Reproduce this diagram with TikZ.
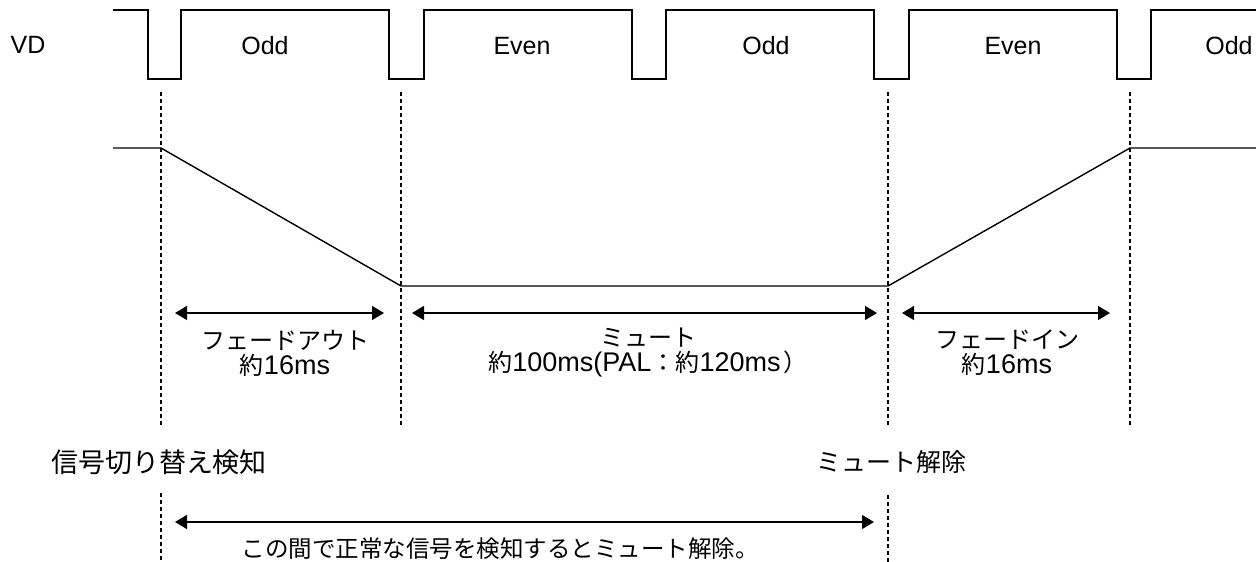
\documentclass[tikz,border=0pt]{standalone}
\usepackage{fontspec}
\setmainfont{Liberation Sans}
\newfontfamily\jp{Noto Sans CJK JP}
\usetikzlibrary{arrows.meta}
\begin{document}
\begin{tikzpicture}[x=1pt,y=-1pt,
  wave/.style={line width=1.4pt, line join=miter},
  guide/.style={line width=1.2pt, dash pattern=on 4pt off 3pt},
  span/.style={line width=1.4pt, {Triangle[length=12pt,width=14pt]}-{Triangle[length=12pt,width=14pt]}},
  lbl/.style={inner sep=0pt, font=\fontsize{25}{30}\selectfont},
  pair/.style={inner sep=0pt, align=center, font=\fontsize{27}{25}\selectfont},
  jlbl/.style={inner sep=0pt, font=\fontsize{24}{30}\selectfont\jp}]
\useasboundingbox (0,0) rectangle (1256,562);

% VD waveform
\node[lbl] (vd) at (28,45) {VD};
\draw[wave] (113,10) -- (148,10) -- (148,79) -- (181,79) -- (181,10)
  -- (389,10) -- (389,79) -- (424,79) -- (424,10)
  -- (632,10) -- (632,79) -- (666,79) -- (666,10)
  -- (874,10) -- (874,79) -- (909,79) -- (909,10)
  -- (1117,10) -- (1117,79) -- (1151,79) -- (1151,10) -- (1256,10);
\node[lbl] (f1) at (265,46) {Odd};
\node[lbl] (f2) at (522,46) {Even};
\node[lbl] (f3) at (766,46) {Odd};
\node[lbl] (f4) at (1013,46) {Even};
\node[lbl] (f5) at (1229,46) {Odd};

% level curve
\draw[wave] (113,148) -- (161,148) -- (401,286) -- (888,286) -- (1130,148) -- (1256,148);

% guides
\coordinate (g1a) at (161,92);  \coordinate (g1b) at (161,425);
\coordinate (g2a) at (401,92);  \coordinate (g2b) at (401,425);
\coordinate (g3a) at (888,92);  \coordinate (g3b) at (888,425);
\coordinate (g4a) at (1130,92); \coordinate (g4b) at (1130,425);
\coordinate (g5a) at (161,493); \coordinate (g5b) at (161,562);
\coordinate (g6a) at (888,495); \coordinate (g6b) at (888,562);
\draw[guide] (g1a) -- (g1b);
\draw[guide] (g2a) -- (g2b);
\draw[guide] (g3a) -- (g3b);
\draw[guide] (g4a) -- (g4b);
\draw[guide] (g5a) -- (g5b);
\draw[guide] (g6a) -- (g6b);

% spans
\coordinate (a1l) at (175,313); \coordinate (a1r) at (384,313);
\coordinate (a2l) at (412,313); \coordinate (a2r) at (877,313);
\coordinate (a3l) at (902,313); \coordinate (a3r) at (1110,313);
\coordinate (a4l) at (175,522); \coordinate (a4r) at (874,522);
\draw[span] (a1l) -- (a1r);
\draw[span] (a2l) -- (a2r);
\draw[span] (a3l) -- (a3r);
\draw[span] (a4l) -- (a4r);

% labels
\node[pair] (t1) at (285,353) {{\jp\fontsize{24}{25}\selectfont フェードアウト}\\{\jp\fontsize{24}{25}\selectfont 約}16ms};
\node[pair] (t2) at (648,353) {{\jp\fontsize{24}{25}\selectfont ミュート}\\{\jp\fontsize{24}{25}\selectfont 約}100ms(PAL{\jp\fontsize{24}{25}\selectfont ：約}120ms\hspace{3pt}{\jp\fontsize{24}{25}\selectfont ）}};
\node[pair] (t3) at (1007,353) {{\jp\fontsize{24}{25}\selectfont フェードイン}\\{\jp\fontsize{24}{25}\selectfont 約}16ms};
\node[jlbl, font=\fontsize{27}{30}\selectfont\jp] (t4) at (159,462) {信号切り替え検知};
\node[jlbl, font=\fontsize{25}{30}\selectfont\jp] (t5) at (891,462) {ミュート解除};
\node[jlbl, font=\fontsize{23.5}{30}\selectfont\jp] (t6) at (500,549) {この間で正常な信号を検知するとミュート解除。};
\end{tikzpicture}
\end{document}
